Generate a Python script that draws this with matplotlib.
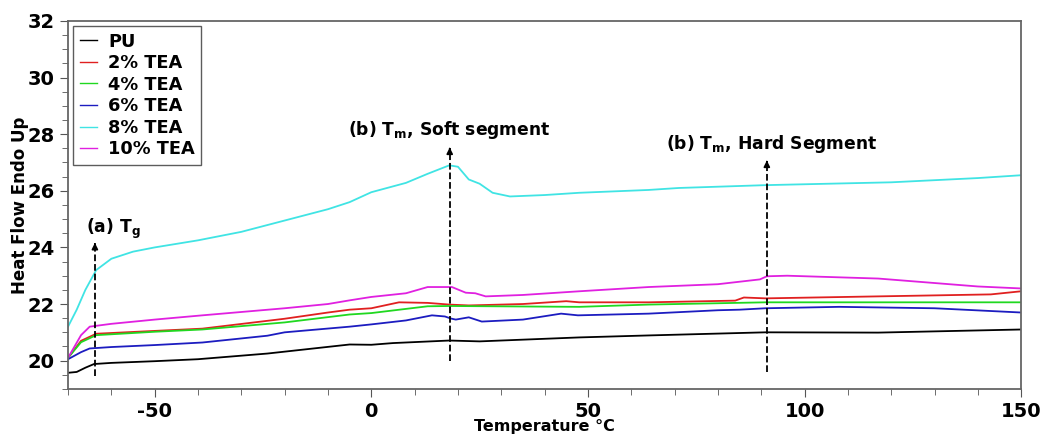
import matplotlib.pyplot as plt
from matplotlib.ticker import MultipleLocator

plt.rcParams['font.family'] = ['DejaVu Sans']
plt.rcParams['font.weight'] = 'bold'
plt.rcParams['mathtext.default'] = 'bf'
plt.rcParams['axes.unicode_minus'] = False

# PU
t_pu = [-70, -68, -66, -64, -60, -50, -40, -24, -5, 0, 5, 18, 25, 48, 64, 91, 117, 150]
pu = [19.57, 19.6, 19.75, 19.88, 19.92, 19.98, 20.05, 20.25, 20.57, 20.56, 20.62, 20.71, 20.68, 20.82, 20.89, 21.0, 20.99, 21.1]

# 2% TEA
t_2 = [-70, -67, -63.5, -50, -39, -20, -10, -5, 0, 6.4, 13, 18, 22.5, 35, 45, 48, 64, 84, 86, 91, 117, 143, 150]
tea2 = [20.1, 20.7, 20.95, 21.05, 21.13, 21.48, 21.7, 21.8, 21.85, 22.06, 22.04, 21.98, 21.95, 22.0, 22.1, 22.06, 22.06, 22.12, 22.23, 22.2, 22.27, 22.34, 22.45]

# 4% TEA
t_4 = [-70, -67, -63.5, -50, -39, -20, -5, 0, 13, 18, 48, 64, 91, 150]
tea4 = [20.1, 20.65, 20.9, 21.02, 21.1, 21.35, 21.63, 21.68, 21.92, 21.93, 21.9, 21.98, 22.06, 22.06]

# 6% TEA
t_6 = [-70, -67, -65, -60, -50, -39, -24, -20, -5, 0, 8, 14, 17, 18.3, 19.5, 22.5, 25.5, 35, 43.8, 47.7, 64, 80, 85, 91, 108, 130, 150]
tea6 = [20.05, 20.3, 20.43, 20.48, 20.55, 20.64, 20.88, 21.0, 21.2, 21.28, 21.42, 21.6, 21.56, 21.49, 21.45, 21.53, 21.38, 21.45, 21.66, 21.6, 21.66, 21.78, 21.8, 21.85, 21.9, 21.85, 21.7]

# 8% TEA
t_8 = [-70, -68, -66, -63.5, -60, -55, -50, -40, -30, -20, -10, -5, 0, 8, 13, 18, 20, 22.5, 25, 28, 32, 40, 48, 64, 71, 91, 120, 140, 150]
tea8 = [21.2, 21.8, 22.5, 23.2, 23.6, 23.85, 24.0, 24.25, 24.55, 24.95, 25.35, 25.6, 25.95, 26.28, 26.6, 26.9, 26.85, 26.4, 26.25, 25.93, 25.8, 25.85, 25.93, 26.03, 26.1, 26.2, 26.3, 26.45, 26.55]

# 10% TEA
t_10 = [-70, -67, -65, -60, -50, -39, -20, -10, -5, 0, 8, 13, 18.6, 21.8, 24, 26.4, 35, 48, 64, 80, 89.7, 91.3, 96, 117, 140, 150]
tea10 = [20.1, 20.9, 21.2, 21.3, 21.45, 21.6, 21.85, 22.0, 22.13, 22.25, 22.38, 22.6, 22.6, 22.4, 22.38, 22.27, 22.32, 22.45, 22.6, 22.7, 22.87, 22.98, 23.0, 22.9, 22.62, 22.55]

series = [(t_pu, pu, 'PU', 'black'),
          (t_2, tea2, '2% TEA', '#e02020'),
          (t_4, tea4, '4% TEA', '#20d820'),
          (t_6, tea6, '6% TEA', '#1c1cc0'),
          (t_8, tea8, '8% TEA', '#40e4e4'),
          (t_10, tea10, '10% TEA', '#e020e0')]

# annotations: x, bottom, top, text, text y, text x
notes = [(-63.8, 19.47, 24.26, '(a) T$_g$', 24.65, -59.5),
         (18.1, 20.0, 27.63, '(b) T$_m$, Soft segment', 28.15, 18.1),
         (91.3, 19.6, 27.17, '(b) T$_m$, Hard Segment', 27.67, 92.5)]

fig = plt.figure(figsize=(10.42, 4.37), dpi=100)
ax = fig.add_axes([0.0653, 0.110, 0.9147, 0.842])

for t, v, lab, c in series:
    ax.plot(t, v, color=c, lw=1.3, label=lab)

for x, y0, y1, txt, ty, tx in notes:
    ax.plot([x, x], [y0, y1 - 0.15], color='black', ls='--', lw=1.3)
    ax.annotate('', xy=(x, y1), xytext=(x, y1 - 0.25),
                arrowprops=dict(arrowstyle='-|>', color='black', lw=1.2, mutation_scale=9))
    ax.text(tx, ty, txt, ha='center', va='center', fontsize=12.3, fontweight='bold')

ax.set_xlim(-70, 150)
ax.set_ylim(19, 32)
ax.set_xticks([-50, 0, 50, 100, 150])
ax.set_yticks([20, 22, 24, 26, 28, 30, 32])
ax.xaxis.set_minor_locator(MultipleLocator(10))
ax.yaxis.set_minor_locator(MultipleLocator(0.5))
ax.tick_params(which='major', direction='out', length=6, color='#555555', labelsize=14)
ax.tick_params(which='minor', direction='out', length=4, color='#555555')
for s in ax.spines.values():
    s.set_color('#666666')
    s.set_linewidth(1.3)

ax.set_xlabel('Temperature °C', fontsize=11.5, fontweight='bold')
ax.xaxis.set_label_coords(0.5, -0.083)
ax.set_ylabel('Heat Flow Endo Up', fontsize=12, fontweight='bold')
ax.yaxis.set_label_coords(-0.041, 0.5)

leg = ax.legend(loc='upper left', fontsize=12.8, handlelength=1.0, handletextpad=0.6,
                labelspacing=0.2, fancybox=False, edgecolor='#333333',
                borderaxespad=0.3, borderpad=0.35, bbox_to_anchor=(0.0, 1.0))
leg.get_frame().set_linewidth(1.0)
for h in leg.get_lines():
    h.set_linewidth(1.0)

fig.savefig('out.png', dpi=100)
